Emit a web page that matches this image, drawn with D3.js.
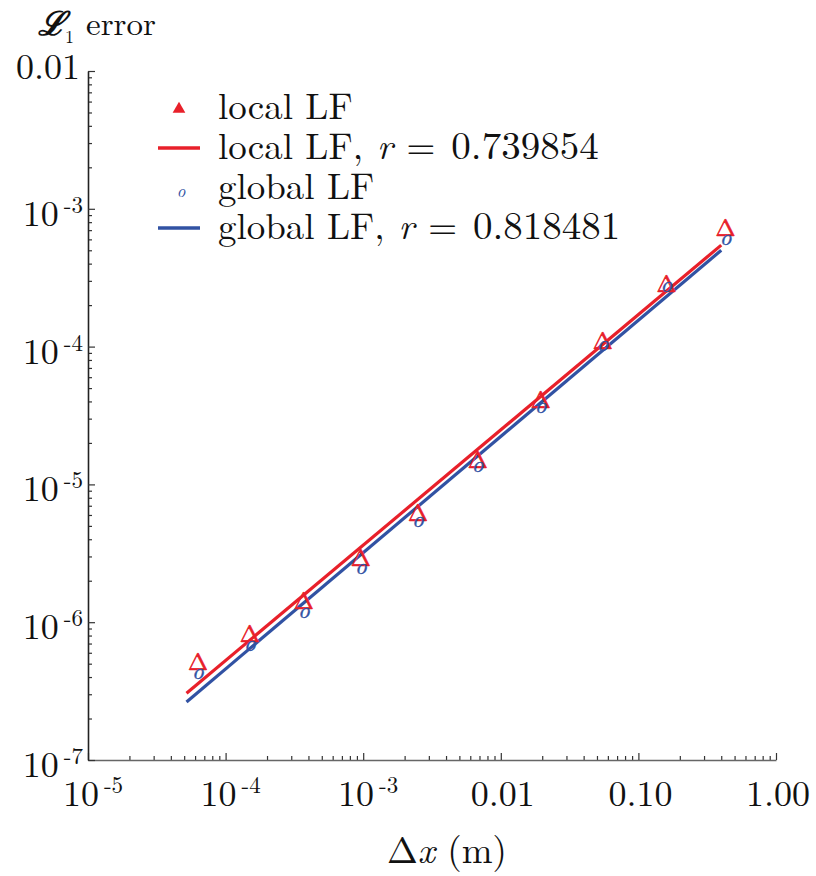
<!DOCTYPE html>
<html lang="en">
<head>
<meta charset="UTF-8">
<title>L1 error vs dx</title>
<script src="https://cdn.jsdelivr.net/npm/d3@7/dist/d3.min.js"></script>
<style>
  body { margin: 0; background: #fff; }
</style>
</head>
<body>
<script>
// data
var dx = [6.3e-5, 1.5e-4, 3.7e-4, 9.6e-4, 2.5e-3, 6.8e-3, 0.0195, 0.055, 0.16, 0.43];
var localErr = [5.1e-7, 8.2e-7, 1.43e-6, 2.9e-6, 6.2e-6, 1.5e-5, 4.1e-5, 1.1e-4, 2.85e-4, 7.3e-4];
var globalErr = [4.2e-7, 6.7e-7, 1.17e-6, 2.43e-6, 5.3e-6, 1.34e-5, 3.6e-5, 1.01e-4, 2.7e-4, 5.9e-4];
var fitDx = [5.2e-5, 0.40];
var localFit = [3.05e-7, 5.45e-4];
var globalFit = [2.64e-7, 5.0e-4];

var xTicks = [1e-5, 1e-4, 1e-3, 1e-2, 1e-1, 1];
var xTickLabels = [["10", "-5"], ["10", "-4"], ["10", "-3"], ["0.01"], ["0.10"], ["1.00"]];
var yTicks = [1e-7, 1e-6, 1e-5, 1e-4, 1e-3, 1e-2];
var yTickLabels = [["10", "-7"], ["10", "-6"], ["10", "-5"], ["10", "-4"], ["10", "-3"], ["0.01"]];

var legendItems = [
  { kind: "tri", label: "local LF" },
  { kind: "line", color: "#e8202a", label: "local LF,", r: "0.739854" },
  { kind: "o", label: "global LF" },
  { kind: "line", color: "#3152a3", label: "global LF,", r: "0.818481" }
];

var red = "#e8202a", blue = "#3152a3";
var w = 816, h = 876;
var fontName = "'Latin Modern Roman'";

var x = d3.scaleLog().domain([1e-5, 1]).range([88, 776]);
var y = d3.scaleLog().domain([1e-7, 1e-2]).range([760, 71]);

var svg = d3.select("body").append("svg")
  .attr("width", w)
  .attr("height", h);

// minor ticks (2..9 in each decade)
var minors = [];
for (var e = -7; e < 0; e++) {
  for (var m = 2; m <= 9; m++) minors.push(m * Math.pow(10, e));
}
var xMinor = minors.filter(function(v) { return v > 1e-5 && v < 1; });
var yMinor = minors.filter(function(v) { return v > 1e-7 && v < 1e-2; });

svg.append("g")
  .attr("transform", "translate(0,760)")
  .call(d3.axisBottom(x).tickValues(xMinor).tickSize(-4).tickFormat(""))
  .call(function(g) { g.select(".domain").remove(); });
svg.append("g")
  .attr("transform", "translate(88,0)")
  .call(d3.axisLeft(y).tickValues(yMinor).tickSize(-4).tickFormat(""))
  .call(function(g) { g.select(".domain").remove(); });

var xAxis = svg.append("g")
  .attr("transform", "translate(0,760)")
  .call(d3.axisBottom(x).tickValues(xTicks).tickSize(-7).tickSizeOuter(0).tickFormat(""));
var yAxis = svg.append("g")
  .attr("transform", "translate(88,0)")
  .call(d3.axisLeft(y).tickValues(yTicks).tickSize(-7).tickSizeOuter(0).tickFormat(""));

svg.selectAll(".tick line").attr("stroke", "#333").attr("stroke-width", 1.2);
xAxis.select(".domain").attr("stroke", "#666").attr("stroke-width", 1.6);
yAxis.select(".domain").attr("stroke", "#222").attr("stroke-width", 1.6);

function txt(sel) {
  return sel.style("font-family", fontName).style("fill", "#111");
}

function writeLabel(t, parts) {
  t.append("tspan").text(parts[0]);
  if (parts.length > 1) {
    t.append("tspan").attr("dx", 5).attr("dy", -13).style("font-size", "23px").text(parts[1]);
  }
}

// x tick labels
xTicks.forEach(function(v, i) {
  var t = txt(svg.append("text"))
    .attr("x", x(v) + (xTickLabels[i].length > 1 ? 5 : 2))
    .attr("y", 806)
    .attr("text-anchor", "middle")
    .style("font-size", "36px");
  writeLabel(t, xTickLabels[i]);
});

// y tick labels
yTicks.forEach(function(v, i) {
  var pow = yTickLabels[i].length > 1;
  var t = txt(svg.append("text"))
    .attr("x", pow ? 83 : 80)
    .attr("y", y(v) + (pow ? 17 : 8))
    .attr("text-anchor", "end")
    .style("font-size", "36px");
  writeLabel(t, yTickLabels[i]);
});

// fitted lines
var line = d3.line()
  .x(function(d) { return x(d[0]); })
  .y(function(d) { return y(d[1]); });

svg.append("path")
  .datum(d3.zip(fitDx, globalFit))
  .attr("d", line)
  .attr("fill", "none")
  .attr("stroke", blue)
  .attr("stroke-width", 3.2);
svg.append("path")
  .datum(d3.zip(fitDx, localFit))
  .attr("d", line)
  .attr("fill", "none")
  .attr("stroke", red)
  .attr("stroke-width", 3.2);

// markers
svg.selectAll(".tri")
  .data(d3.zip(dx, localErr))
  .enter().append("text")
  .attr("class", "tri")
  .attr("x", function(d) { return x(d[0]); })
  .attr("y", function(d) { return y(d[1]) + 8; })
  .attr("text-anchor", "middle")
  .style("font-family", fontName)
  .style("font-size", "24px")
  .style("fill", red)
  .style("stroke", red)
  .style("stroke-width", 0.6)
  .text("Δ");

svg.selectAll(".oo")
  .data(d3.zip(dx, globalErr))
  .enter().append("text")
  .attr("class", "oo")
  .attr("x", function(d) { return x(d[0]); })
  .attr("y", function(d) { return y(d[1]) + 5; })
  .attr("text-anchor", "middle")
  .style("font-family", fontName)
  .style("font-size", "23px")
  .style("font-style", "italic")
  .style("fill", blue)
  .style("stroke", blue)
  .style("stroke-width", 0.4)
  .text("o");

// legend
var lg = svg.append("g");
legendItems.forEach(function(it, i) {
  var by = 119 + i * 40;
  if (it.kind === "tri") {
    lg.append("path")
      .attr("d", d3.symbol().type(d3.symbolTriangle).size(70)())
      .attr("transform", "translate(179," + (by - 10) + ")")
      .attr("fill", red);
  } else if (it.kind === "o") {
    txt(lg.append("text"))
      .attr("x", 181).attr("y", by - 2)
      .attr("text-anchor", "middle")
      .style("font-size", "17px")
      .style("font-style", "italic")
      .style("fill", blue)
      .text("o");
  } else {
    lg.append("line")
      .attr("x1", 158).attr("x2", 200)
      .attr("y1", by - 11).attr("y2", by - 11)
      .attr("stroke", it.color)
      .attr("stroke-width", 3.5);
  }
  var t = txt(lg.append("text"))
    .attr("x", 218).attr("y", by)
    .style("font-size", "37px")
    .text(it.label);
  if (it.r) {
    t.append("tspan").attr("dx", 14).style("font-style", "italic").text("r");
    t.append("tspan").attr("dx", 14).text("=");
    t.append("tspan").attr("dx", 16).style("font-size", "39px").text(it.r);
  }
});

// y title
var yt = txt(svg.append("text")).attr("x", 38).attr("y", 35).style("font-size", "33px");
yt.append("tspan").style("font-weight", "bold").style("font-style", "italic").text("ℒ");
yt.append("tspan").attr("dy", 8).style("font-size", "18px").text("1");
yt.append("tspan").attr("dy", -8).attr("dx", 12).text("error");

// x title
var xt = txt(svg.append("text")).attr("x", 447).attr("y", 863)
  .attr("text-anchor", "middle").style("font-size", "37px");
xt.append("tspan").text("Δ");
xt.append("tspan").style("font-style", "italic").text("x");
xt.append("tspan").text(" (m)");
</script>
</body>
</html>
